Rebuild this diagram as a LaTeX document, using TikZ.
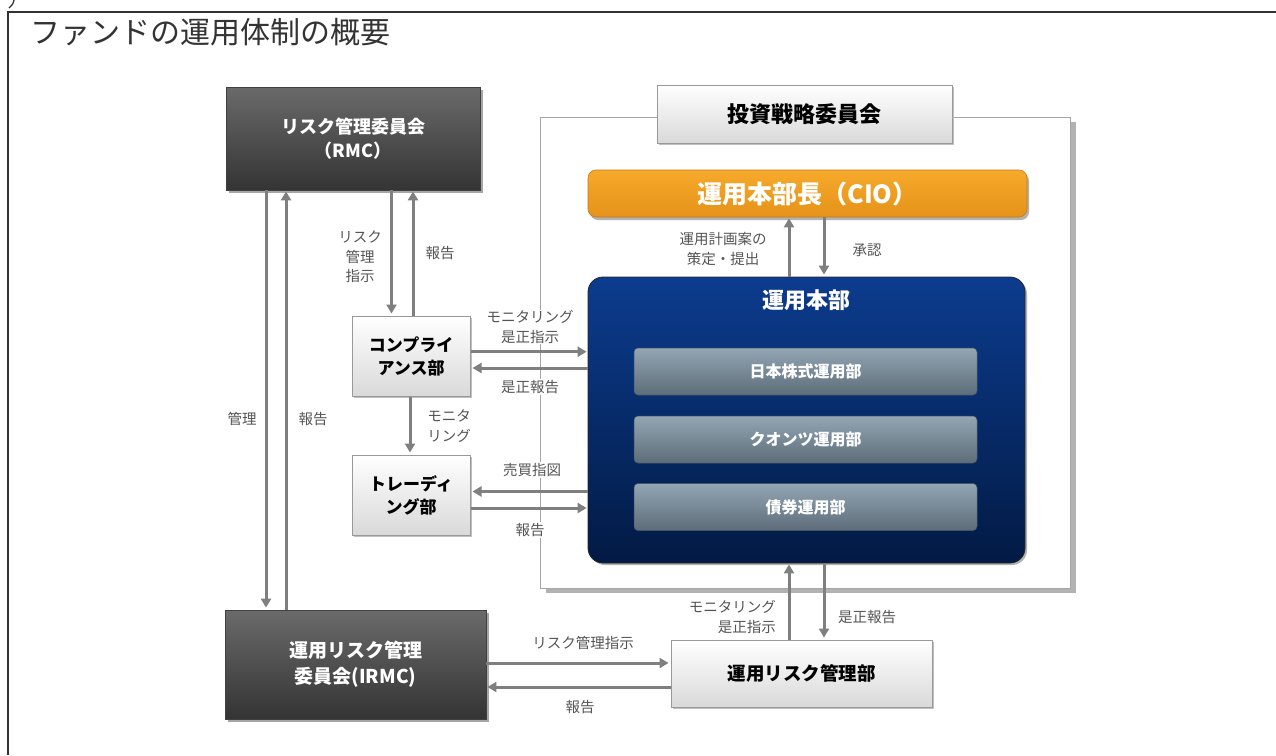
\documentclass[tikz,border=0pt]{standalone}
\usepackage{fontspec}
\setmainfont{Noto Sans CJK JP}
\usetikzlibrary{arrows.meta,shadows}
\definecolor{framec}{HTML}{333333}
\definecolor{dkTop}{HTML}{6A6A6A}
\definecolor{dkBot}{HTML}{343434}
\definecolor{ltBot}{HTML}{D9D9D9}
\definecolor{orTop}{HTML}{F6AA2A}
\definecolor{orBot}{HTML}{E5921A}
\definecolor{nvTop}{HTML}{0C3C8E}
\definecolor{nvBot}{HTML}{021A44}
\definecolor{sbTop}{HTML}{93A6B4}
\definecolor{sbBot}{HTML}{5D6C79}
\definecolor{arrc}{HTML}{7F7F7F}
\definecolor{lblc}{HTML}{555555}
\begin{document}
\begin{tikzpicture}[x=1pt,y=-1pt,
  darkbox/.style={draw=black!75, line width=0.8pt, top color=dkTop, bottom color=dkBot,
    text=white, align=center, font=\bfseries\fontsize{18}{24}\selectfont,
    drop shadow={shadow xshift=3pt,shadow yshift=-3pt,fill=black!35,opacity=1}},
  lightbox/.style={draw=black!40, line width=1pt, top color=white, bottom color=ltBot,
    text=black, align=center, font=\bfseries\fontsize{17}{23}\selectfont,
    drop shadow={shadow xshift=2pt,shadow yshift=-2pt,fill=black!25,opacity=1}},
  subbox/.style={draw=sbBot!80!black, line width=0.5pt, rounded corners=4pt, top color=sbTop, bottom color=sbBot,
    text=white, font=\bfseries\fontsize{16}{20}\selectfont, minimum width=343pt, minimum height=47pt},
  arr/.style={draw=arrc, line width=3pt, -{Triangle[length=9pt,width=10pt]}},
  lbl/.style={text=lblc, align=center, inner sep=1pt, font=\fontsize{14.5}{19.5}\selectfont},
  lblw/.style={lbl, fill=white}
]
\useasboundingbox (0,0) rectangle (1276,755);
\fill[white] (0,0) rectangle (1276,755);
% frame
\draw[framec, line width=2pt] (8,755) -- (8,12) -- (1276,12);
\draw[framec, line width=1.3pt] (14,0) .. controls (13,4) .. (9,8);
\node[anchor=west, text=framec, inner sep=0pt, font=\fontsize{30}{34}\selectfont] (title) at (30,32) {ファンドの運用体制の概要};

% investment strategy committee
\node[draw=black!35, line width=1pt, fill=white, minimum width=530pt, minimum height=471pt,
  drop shadow={shadow xshift=6pt,shadow yshift=-5pt,fill=black!30,opacity=1}] (isc) at (805,352.5) {};
\node[lightbox, font=\bfseries\fontsize{22}{26}\selectfont, minimum width=295pt, minimum height=58pt] (isclbl) at (804.5,114) {投資戦略委員会};

% CIO
\node[draw=orBot!85!black, line width=0.6pt, rounded corners=8pt, top color=orTop, bottom color=orBot,
  text=white, font=\bfseries\fontsize{25}{30}\selectfont, minimum width=439pt, minimum height=47pt,
  drop shadow={shadow xshift=2pt,shadow yshift=-3pt,fill=black!30,opacity=1}] (cio) at (807.5,193.5) {運用本部長（CIO）};

% operations HQ
\node[draw=black!85, line width=0.8pt, rounded corners=15pt, top color=nvTop, bottom color=nvBot,
  minimum width=437pt, minimum height=286pt,
  drop shadow={shadow xshift=2pt,shadow yshift=-2pt,fill=black!30,opacity=1}] (honbu) at (806.5,420) {};
\node[text=white, font=\bfseries\fontsize{22}{26}\selectfont] (honbut) at (806.5,300) {運用本部};
\node[subbox] (jp) at (805.5,371.5) {日本株式運用部};
\node[subbox] (qu) at (805.5,439.5) {クオンツ運用部};
\node[subbox] (bd) at (805.5,507) {債券運用部};

% left side boxes
\node[darkbox, minimum width=254pt, minimum height=103pt] (rmc) at (353,138.5) {リスク管理委員会\\（RMC）};
\node[darkbox, font=\bfseries\fontsize{19}{26}\selectfont, minimum width=261pt, minimum height=109pt] (irmc) at (355.5,664.5) {運用リスク管理\\委員会(IRMC)};
\node[lightbox, minimum width=118pt, minimum height=80pt] (comp) at (411,356) {コンプライ\\アンス部};
\node[lightbox, minimum width=118pt, minimum height=80pt] (trade) at (411,495) {トレーディ\\ング部};
\node[lightbox, font=\bfseries\fontsize{18.5}{23}\selectfont, minimum width=261pt, minimum height=67pt] (rmd) at (801.5,673.5) {運用リスク管理部};

% helper coordinates
\coordinate (xa) at (266,0);
\coordinate (xb) at (286,0);
\coordinate (xc) at (391.5,0);
\coordinate (xd) at (413,0);
\coordinate (xe) at (410,0);
\coordinate (xf) at (789,0);
\coordinate (xg) at (824,0);
\coordinate (ya) at (0,351.7);
\coordinate (yb) at (0,368);
\coordinate (yc) at (0,491.5);
\coordinate (yd) at (0,508);
\coordinate (ye) at (0,663);
\coordinate (yf) at (0,687);

% connectors
\draw[arr, shorten >=2pt] (rmc.south -| xa) -- (irmc.north -| xa);
\draw[arr, shorten >=1pt] (irmc.north -| xb) -- (rmc.south -| xb);
\draw[arr, shorten >=2pt] (rmc.south -| xc) -- (comp.north -| xc);
\draw[arr, shorten >=1pt] (comp.north -| xd) -- (rmc.south -| xd);
\draw[arr, shorten >=2pt] (comp.south -| xe) -- (trade.north -| xe);
\draw[arr, shorten >=1pt] (comp.east |- ya) -- (honbu.west |- ya);
\draw[arr, shorten >=2pt] (honbu.west |- yb) -- (comp.east |- yb);
\draw[arr, shorten >=2pt] (honbu.west |- yc) -- (trade.east |- yc);
\draw[arr, shorten >=1pt] (trade.east |- yd) -- (honbu.west |- yd);
\draw[arr, shorten >=2pt] (irmc.east |- ye) -- (rmd.west |- ye);
\draw[arr, shorten >=1pt] (rmd.west |- yf) -- (irmc.east |- yf);
\draw[arr, shorten >=1pt] (rmd.north -| xf) -- (honbu.south -| xf);
\draw[arr, shorten >=2pt] (honbu.south -| xg) -- (rmd.north -| xg);
\draw[arr, shorten >=1pt] (honbu.north -| xf) -- (cio.south -| xf);
\draw[arr, shorten >=2pt] (cio.south -| xg) -- (honbu.north -| xg);

% labels
\node[lbl] (l1) at (360,257) {リスク\\管理\\指示};
\node[lbl] (l2) at (440,253) {報告};
\node[lbl] (l3) at (242,419) {管理};
\node[lbl] (l4) at (313,419) {報告};
\node[lbl] (l5) at (449,426) {モニタ\\リング};
\node[lblw] (l6) at (530,327) {モニタリング\\是正指示};
\node[lblw] (l7) at (530,387) {是正報告};
\node[lblw] (l8) at (532,470) {売買指図};
\node[lblw] (l9) at (530,530) {報告};
\node[lbl] (l10) at (723,249) {運用計画案の\\策定・提出};
\node[lbl] (l11) at (867,250) {承認};
\node[lbl, anchor=east, align=right] (l12) at (777,617) {モニタリング\\是正指示};
\node[lbl] (l13) at (867,617) {是正報告};
\node[lbl] (l14) at (583,643) {リスク管理指示};
\node[lbl] (l15) at (580,707) {報告};
\end{tikzpicture}
\end{document}
